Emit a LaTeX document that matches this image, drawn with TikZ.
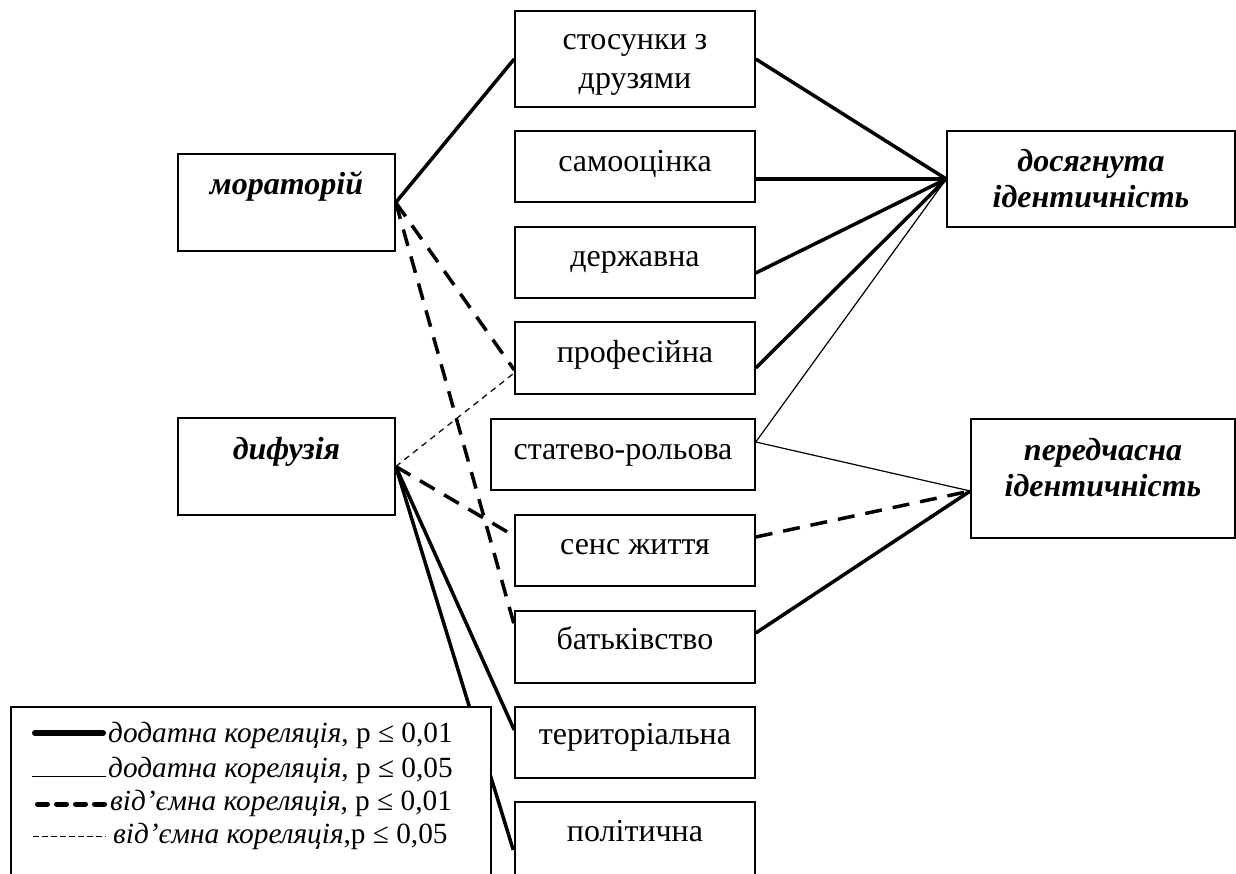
\documentclass[tikz,border=0pt]{standalone}
\usepackage{fontspec}
\setmainfont{Liberation Serif}
\usetikzlibrary{calc}
\begin{document}
\begin{tikzpicture}[x=1pt,y=-1pt,
  box/.style={draw, line width=1.5pt, inner sep=0pt, fill=white},
  txt/.style={anchor=base, inner sep=0pt, align=center, font=\fontsize{32}{39}\selectfont},
  ttl/.style={anchor=base, inner sep=0pt, align=center, font=\fontsize{32}{36}\selectfont\bfseries\itshape},
  posA/.style={line width=3.5pt},
  posB/.style={line width=1.2pt},
  negA/.style={line width=3.5pt, dash pattern=on 17pt off 11pt},
  negB/.style={line width=1.2pt, dash pattern=on 6pt off 5pt},
  lgd/.style={anchor=base west, inner sep=0pt, font=\fontsize{29.3}{33}\selectfont}
]
\useasboundingbox (0,0) rectangle (1236,873);
\clip (0,0) rectangle (1236,873);

% left nodes
\node[box, minimum width=217pt, minimum height=97pt] (mor) at (286.5,202.5) {};
\node[box, minimum width=217pt, minimum height=97pt] (dif) at (286.5,466.5) {};
% middle nodes
\node[box, minimum width=240pt, minimum height=96pt] (b1) at (635,59) {};
\node[box, minimum width=240pt, minimum height=71pt] (b2) at (635,166.5) {};
\node[box, minimum width=240pt, minimum height=71pt] (b3) at (635,262.5) {};
\node[box, minimum width=240pt, minimum height=72pt] (b4) at (635,358) {};
\node[box, minimum width=264pt, minimum height=71pt] (b5) at (623,454.5) {};
\node[box, minimum width=240pt, minimum height=71pt] (b6) at (635,550.5) {};
\node[box, minimum width=240pt, minimum height=72pt] (b7) at (635,647) {};
\node[box, minimum width=240pt, minimum height=71pt] (b8) at (635,742.5) {};
\node[box, minimum width=240pt, minimum height=90pt] (b9) at (635,847) {};
% right nodes
\node[box, minimum width=288pt, minimum height=96pt] (dos) at (1091,179) {};
\node[box, minimum width=264pt, minimum height=119pt] (per) at (1103,478.5) {};

% texts (base = last line's baseline)
\node[ttl] (tmor) at ($(mor.north)+(0,41)$) {мораторій};
\node[ttl] (tdif) at ($(dif.north)+(0,42)$) {дифузія};
\node[ttl] (tdos) at ($(dos.north)+(0,77)$) {досягнута\\ідентичність};
\node[ttl] (tper) at ($(per.north)+(0,78)$) {передчасна\\ідентичність};
\node[txt] (t1) at ($(b1.north)+(0,78)$) {стосунки з\\друзями};
\node[txt] (t2) at ($(b2.north)+(0,41)$) {самооцінка};
\node[txt] (t3) at ($(b3.north)+(0,40)$) {державна};
\node[txt] (t4) at ($(b4.north)+(0,41)$) {професійна};
\node[txt] (t5) at ($(b5.north)+(0,41)$) {статево-рольова};
\node[txt] (t6) at ($(b6.north)+(0,40)$) {сенс життя};
\node[txt] (t7) at ($(b7.north)+(0,39)$) {батьківство};
\node[txt] (t8) at ($(b8.north)+(0,38)$) {територіальна};
\node[txt] (t9) at ($(b9.north)+(0,40)$) {політична};

% attachment points
\coordinate (pj) at ($(per.west)+(0,12.5)$);
\coordinate (s5) at ($(b5.east)+(0,-12.5)$);

% connectors from left
\draw[posA] (mor.east) -- (b1.west);
\draw[negA] (mor.east) -- ($(b4.west)+(0,12)$);
\draw[negA] (mor.east) -- ($(b7.west)+(0,-22)$);
\draw[negB] (dif.east) -- ($(b4.west)+(0,15)$);
\draw[negA] (dif.east) -- ($(b6.west)+(-5,-17.5)$);
\draw[posA] (dif.east) -- ($(b8.west)+(0,-12.5)$);
\draw[posA] (dif.east) -- ($(b9.west)+(-1,3)$);

% connectors to right
\draw[posA] (b1.east) -- (dos.west);
\draw[posA] ($(b2.east)+(0,12.5)$) -- (dos.west);
\draw[posA] ($(b3.east)+(0,10.5)$) -- (dos.west);
\draw[posA] ($(b4.east)+(0,10)$) -- (dos.west);
\draw[posB] (s5) -- (dos.west);
\draw[posB] (s5) -- (pj);
\draw[negA] ($(b6.east)+(0,-13.5)$) -- (pj);
\draw[posA] ($(b7.east)+(0,-14)$) -- (pj);

% legend
\node[box, minimum width=480pt, minimum height=180pt] (leg) at (251,797) {};
\coordinate (l1a) at (32,733);  \coordinate (l1b) at (106,733);
\coordinate (l2a) at (32,776);  \coordinate (l2b) at (106,776);
\coordinate (l3a) at (35,804);  \coordinate (l3b) at (106,804);
\coordinate (l4a) at (33,836);  \coordinate (l4b) at (106,836);
\draw[line width=6pt, line cap=round] ($(l1a)+(3,0)$) -- ($(l1b)+(-3,0)$);
\draw[line width=1pt] (l2a) -- (l2b);
\draw[line width=5pt, line cap=round, dash pattern=on 10pt off 9pt] ($(l3a)+(2.5,0)$) -- (l3b);
\draw[line width=1pt, dash pattern=on 6pt off 3pt] (l4a) -- (l4b);
\node[lgd] (g1) at (108,742) {\itshape додатна кореляція\upshape, p ≤ 0,01};
\node[lgd] (g2) at (108,777) {\itshape додатна кореляція\upshape, p ≤ 0,05};
\node[lgd] (g3) at (110,810) {\itshape від’ємна кореляція\upshape, p ≤ 0,01};
\node[lgd] (g4) at (113,843) {\itshape від’ємна кореляція\upshape,p ≤ 0,05};
\end{tikzpicture}
\end{document}
